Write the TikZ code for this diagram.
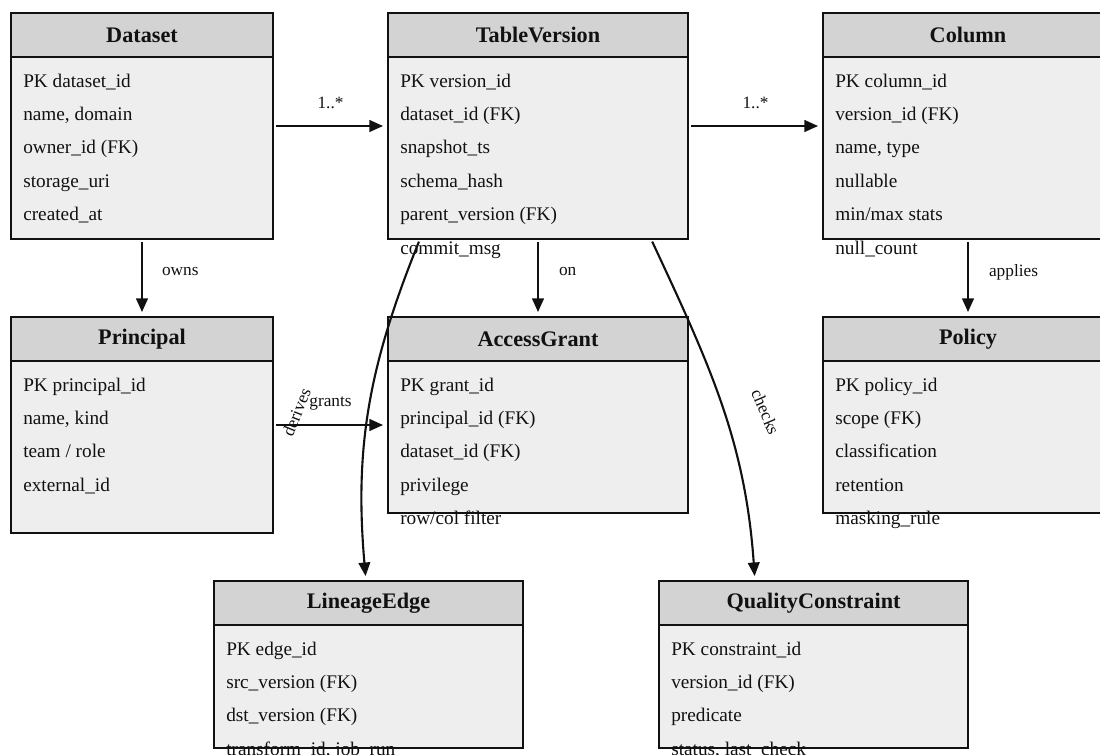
\documentclass[tikz,border=0pt]{standalone}
\usepackage{fontspec}
\setmainfont{Liberation Serif}
\usepackage{tikz}
\usetikzlibrary{arrows.meta,positioning,fit,calc}
\definecolor{ink}{HTML}{111111}
\definecolor{headgray}{HTML}{D3D3D3}
\definecolor{bodygray}{HTML}{EEEEEE}
\tikzset{
  tblhead/.style={draw=ink,line width=1.8pt,fill=headgray,minimum height=1.1cm,
                  outer sep=0pt,inner sep=0pt,text=ink,
                  font=\fontsize{15.8}{18}\selectfont\bfseries},
  tblbody/.style={draw=ink,line width=1.8pt,fill=bodygray,outer sep=0pt,inner sep=0pt},
  whole/.style  ={inner sep=0pt,outer sep=0pt},
  rowtxt/.style ={anchor=base west,inner sep=0pt,text=ink,
                  font=\fontsize{13.7}{16}\selectfont},
  lbl/.style    ={inner sep=0pt,text=ink,font=\fontsize{12.3}{14}\selectfont},
  flow/.style   ={-{Triangle[length=3.4mm,width=2.9mm]},line width=1.5pt,draw=ink,
                  shorten <=2pt,shorten >=3.5pt}
}
\begin{document}
\begin{tikzpicture}
  \useasboundingbox (0,0) rectangle (27.5,-18.875);
  \node[tblhead,minimum width=6.55cm,anchor=north west] (dsH) at (0.275,-0.325) {Dataset};
  \node[tblbody,minimum width=6.55cm,minimum height=4.55cm,below=0pt of dsH] (ds) {};
  \node[tblhead,minimum width=7.5cm,right=2.875cm of dsH] (tvH) {TableVersion};
  \node[tblbody,minimum width=7.5cm,minimum height=4.55cm,below=0pt of tvH] (tv) {};
  \node[tblhead,minimum width=7.25cm,right=3.375cm of tvH] (colH) {Column};
  \node[tblbody,minimum width=7.25cm,minimum height=4.55cm,below=0pt of colH] (col) {};

  \node[tblhead,minimum width=6.55cm,below=1.95cm of ds] (prH) {Principal};
  \node[tblbody,minimum width=6.55cm,minimum height=4.3cm,below=0pt of prH] (pr) {};
  \node[tblhead,minimum width=7.5cm,below=1.95cm of tv] (agH) {AccessGrant};
  \node[tblbody,minimum width=7.5cm,minimum height=3.8cm,below=0pt of agH] (ag) {};
  \node[tblhead,minimum width=7.25cm,below=1.95cm of col] (poH) {Policy};
  \node[tblbody,minimum width=7.25cm,minimum height=3.8cm,below=0pt of poH] (po) {};

  \node[tblhead,minimum width=7.725cm,anchor=north west] (leH) at (5.35,-14.525) {LineageEdge};
  \node[tblbody,minimum width=7.725cm,minimum height=3.075cm,below=0pt of leH] (le) {};
  \node[tblhead,minimum width=7.725cm,anchor=north west] (qcH) at (16.475,-14.525) {QualityConstraint};
  \node[tblbody,minimum width=7.725cm,minimum height=3.075cm,below=0pt of qcH] (qc) {};

  \node[whole,fit=(dsH)(ds)] (dataset) {};
  \node[whole,fit=(tvH)(tv)] (tableversion) {};
  \node[whole,fit=(colH)(col)] (column) {};
  \node[whole,fit=(prH)(pr)] (principal) {};
  \node[whole,fit=(agH)(ag)] (accessgrant) {};
  \node[whole,fit=(poH)(po)] (policy) {};
  \node[whole,fit=(leH)(le)] (lineageedge) {};
  \node[whole,fit=(qcH)(qc)] (qualityconstraint) {};

  \foreach \t [count=\i] in {PK dataset\_id,{name, domain},owner\_id (FK),storage\_uri,created\_at}
    \node[rowtxt] at ($(ds.north west)+(0.3,{-0.75-0.835*(\i-1)})$) {\t};
  \foreach \t [count=\i] in {PK version\_id,dataset\_id (FK),snapshot\_ts,schema\_hash,
                             parent\_version (FK),commit\_msg}
    \node[rowtxt] at ($(tv.north west)+(0.3,{-0.75-0.835*(\i-1)})$) {\t};
  \foreach \t [count=\i] in {PK column\_id,version\_id (FK),{name, type},nullable,
                             min/max stats,null\_count}
    \node[rowtxt] at ($(col.north west)+(0.3,{-0.75-0.835*(\i-1)})$) {\t};
  \foreach \t [count=\i] in {PK principal\_id,{name, kind},team / role,external\_id}
    \node[rowtxt] at ($(pr.north west)+(0.3,{-0.75-0.835*(\i-1)})$) {\t};
  \foreach \t [count=\i] in {PK grant\_id,principal\_id (FK),dataset\_id (FK),privilege,
                             row/col filter}
    \node[rowtxt] at ($(ag.north west)+(0.3,{-0.75-0.835*(\i-1)})$) {\t};
  \foreach \t [count=\i] in {PK policy\_id,scope (FK),classification,retention,masking\_rule}
    \node[rowtxt] at ($(po.north west)+(0.3,{-0.75-0.835*(\i-1)})$) {\t};
  \foreach \t [count=\i] in {PK edge\_id,src\_version (FK),dst\_version (FK),
                             {transform\_id, job\_run}}
    \node[rowtxt] at ($(le.north west)+(0.3,{-0.75-0.835*(\i-1)})$) {\t};
  \foreach \t [count=\i] in {PK constraint\_id,version\_id (FK),predicate,{status, last\_check}}
    \node[rowtxt] at ($(qc.north west)+(0.3,{-0.75-0.835*(\i-1)})$) {\t};

  \draw[flow] (dataset) -- node[lbl,yshift=0.575cm]{1..*} (tableversion);
  \draw[flow] (tableversion) -- node[lbl,yshift=0.575cm]{1..*} (column);
  \draw[flow] (dataset) -- node[lbl,anchor=west,xshift=0.475cm,yshift=0.15cm]{owns} (principal);
  \draw[flow] (tableversion) -- node[lbl,anchor=west,xshift=0.5cm,yshift=0.15cm]{on} (accessgrant);
  \draw[flow] (column) -- node[lbl,anchor=west,xshift=0.5cm,yshift=0.15cm]{applies} (policy);
  \draw[flow] (principal) -- node[lbl,yshift=0.55cm]{grants} (principal -| accessgrant.west);
  \draw[flow] ([xshift=0.8cm]tableversion.south west) to[out=-112,in=95]
    node[lbl,pos=0.5,xshift=-1.825cm,yshift=-0.15cm,rotate=68]{derives}
    ([xshift=3.8cm]lineageedge.north west);
  \draw[flow] ([xshift=-0.925cm]tableversion.south east) to[out=-65,in=94]
    node[lbl,pos=0.5,xshift=1.1cm,yshift=-0.175cm,rotate=-67]{checks}
    ([xshift=2.4cm]qualityconstraint.north west);
\end{tikzpicture}
\end{document}
